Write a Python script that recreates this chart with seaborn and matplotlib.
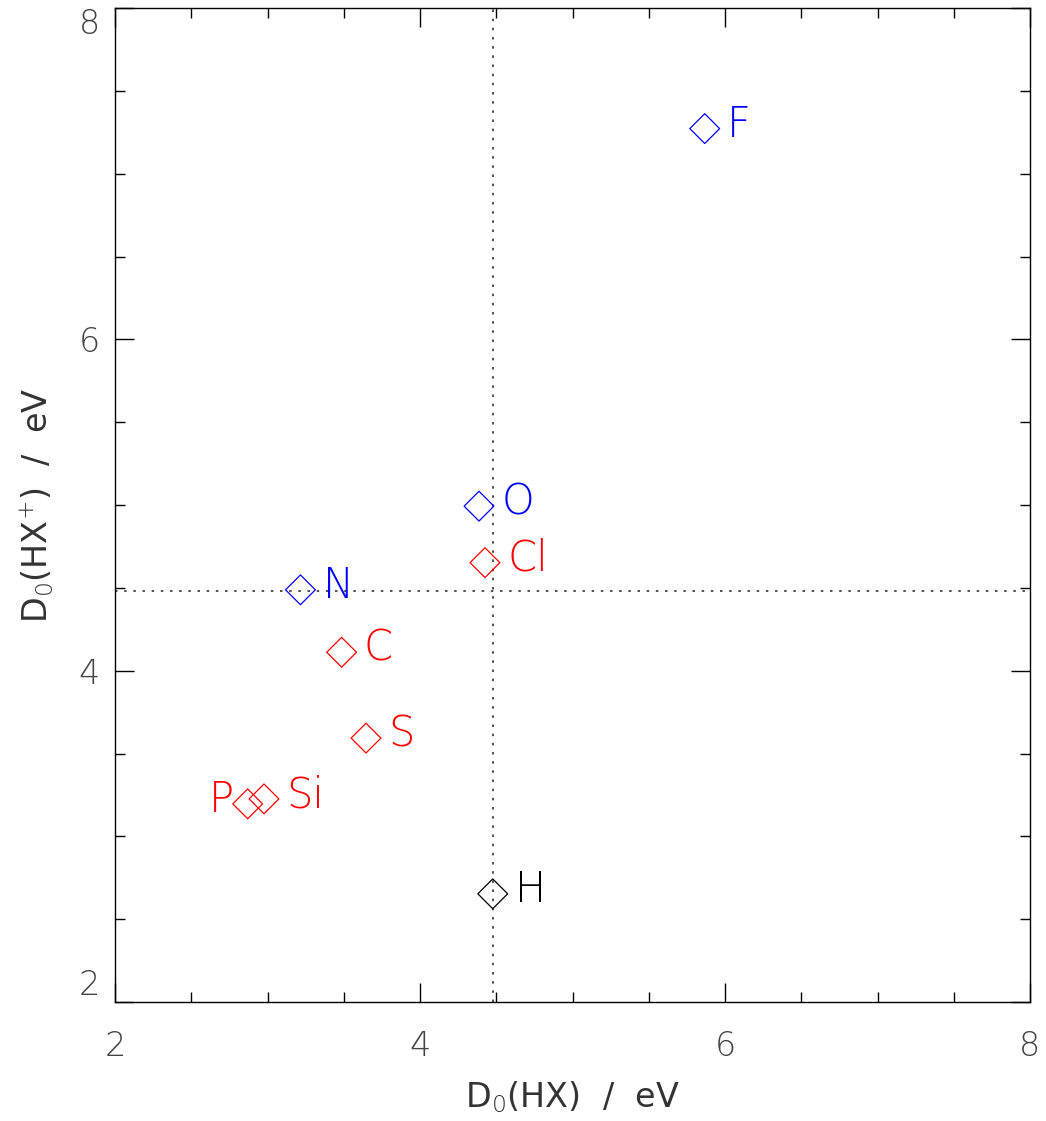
import matplotlib
matplotlib.use("Agg")
import matplotlib.pyplot as plt
import seaborn as sns
import pandas as pd
from matplotlib.ticker import MultipleLocator

# ---- data ----
elements = ["F", "O", "Cl", "N", "C", "S", "P", "Si", "H"]
d0_hx = [5.867, 4.387, 4.426, 3.216, 3.486, 3.646, 2.870, 2.977, 4.477]
d0_hx_plus = [7.272, 4.993, 4.652, 4.488, 4.111, 3.593, 3.196, 3.226, 2.653]
groups = ["blue", "blue", "red", "blue", "red", "red", "red", "red", "black"]
label_side = ["right", "right", "right", "right", "right", "right", "left", "right", "right"]
h2_d0 = 4.478
x_ticks = [2, 4, 6, 8]
y_ticks = [2, 4, 6, 8]

df = pd.DataFrame({"x": d0_hx, "y": d0_hx_plus, "el": elements, "grp": groups})
palette = {"blue": "#0000ff", "red": "#ff0000", "black": "#000000"}

sns.set_theme(style="white")
plt.rcParams["font.family"] = ["DejaVu Sans"]
plt.rcParams["font.weight"] = "light"
plt.rcParams["mathtext.fontset"] = "custom"
plt.rcParams["mathtext.rm"] = "DejaVu Sans:light"
plt.rcParams["mathtext.it"] = "DejaVu Sans:light"
plt.rcParams["mathtext.default"] = "rm"

fig = plt.figure(figsize=(10.46, 11.21), dpi=100)
ax = fig.add_axes([115 / 1046, 119 / 1121, 915 / 1046, 994 / 1121])

ax.axvline(h2_d0, color="#333333", lw=1.2, ls=(0, (1.5, 4)), zorder=1)
ax.axhline(h2_d0, color="#333333", lw=1.2, ls=(0, (1.5, 4)), zorder=1)

sns.scatterplot(data=df, x="x", y="y", hue="grp", palette=palette, marker="D",
                s=230, legend=False, ax=ax, zorder=3)
for coll in ax.collections:
    fc = coll.get_facecolor()
    coll.set_edgecolor(fc)
    coll.set_facecolor("none")
    coll.set_linewidth(0.9)

for el, x, y, g, side in zip(elements, d0_hx, d0_hx_plus, groups, label_side):
    if side == "right":
        off, ha = (16, -6), "left"
    else:
        off, ha = (-10, -6), "right"
    ax.annotate(el, (x, y), xytext=off, textcoords="offset points",
                ha=ha, va="baseline", fontsize=30, color=palette[g],
                fontweight="light")

ax.set_xlim(2, 8)
ax.set_ylim(2, 8)
ax.set_xticks(x_ticks)
ax.set_yticks(y_ticks)
ax.xaxis.set_minor_locator(MultipleLocator(0.5))
ax.yaxis.set_minor_locator(MultipleLocator(0.5))
ax.tick_params(which="both", direction="in", top=True, right=True,
               bottom=True, left=True, color="black", width=1)
ax.tick_params(which="major", length=14, labelsize=24, labelcolor="#444444")
ax.tick_params(which="minor", length=7)
ax.tick_params(axis="x", which="major", pad=20)
ax.tick_params(axis="y", which="major", pad=11)

ylabels = ax.get_yticklabels()
ylabels[0].set_verticalalignment("bottom")
ylabels[-1].set_verticalalignment("top")

for sp in ax.spines.values():
    sp.set_color("black")
    sp.set_linewidth(1)

ax.set_xlabel(r"D$_0$(HX)  /  eV", fontsize=24, color="#333333", labelpad=12)
ax.set_ylabel(r"D$_0$(HX$^{+}$)  /  eV", fontsize=24, color="#333333", labelpad=16)
ax.grid(False)

fig.savefig("out.png", dpi=100)
